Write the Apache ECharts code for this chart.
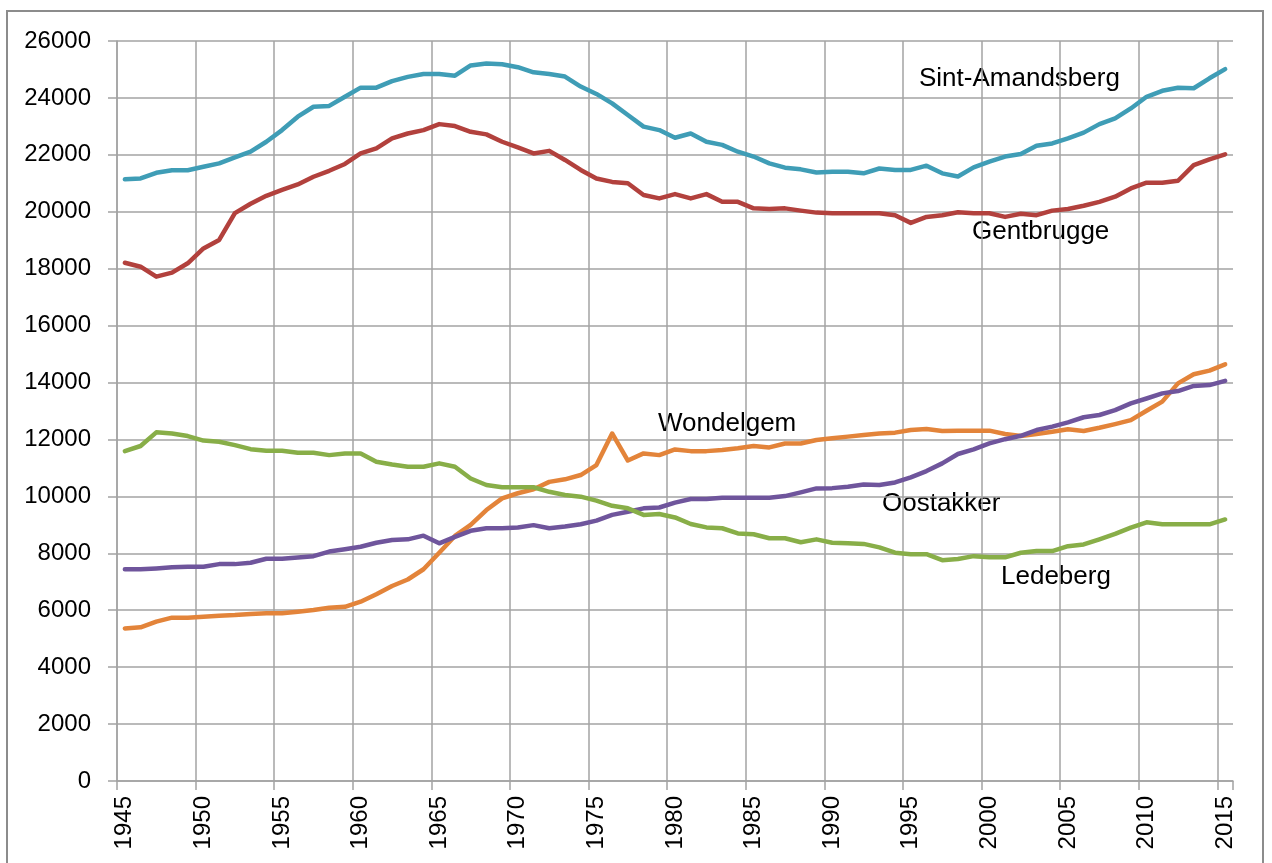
<!DOCTYPE html>
<html>
<head>
<meta charset="utf-8">
<title>Bevolking deelgemeenten</title>
<script src="https://cdn.jsdelivr.net/npm/echarts@6/dist/echarts.min.js"></script>
<style>
    html, body { margin: 0; padding: 0; background: #fff; }
    #chart { width: 1272px; height: 863px; }
</style>
</head>
<body>
<div id="chart"></div>
<script>
// jaren 1945 - 2015
var years = [];
for (var y = 1945; y <= 2015; y++) {
    years.push(String(y));
}

var sintAmandsberg = [21140, 21170, 21370, 21460, 21460, 21580, 21700, 21910, 22110, 22460,
    22870, 23340, 23690, 23720, 24040, 24360, 24360, 24590, 24740, 24840,
    24840, 24780, 25140, 25210, 25180, 25080, 24900, 24840, 24750, 24400,
    24140, 23810, 23400, 22990, 22870, 22600, 22750, 22460, 22350, 22110,
    21940, 21700, 21550, 21490, 21380, 21410, 21410, 21350, 21520, 21470,
    21470, 21620, 21350, 21240, 21560, 21760, 21940, 22030, 22320, 22400,
    22580, 22780, 23080, 23280, 23630, 24040, 24250, 24360, 24340, 24690,
    25010];

var gentbrugge = [18210, 18070, 17720, 17860, 18190, 18710, 19010, 19950, 20280, 20560,
    20770, 20960, 21230, 21440, 21680, 22050, 22230, 22580, 22750, 22870,
    23080, 23010, 22810, 22720, 22460, 22260, 22050, 22140, 21820, 21470,
    21170, 21050, 21000, 20590, 20470, 20620, 20470, 20620, 20350, 20350,
    20120, 20100, 20120, 20040, 19970, 19950, 19950, 19950, 19950, 19880,
    19610, 19820, 19880, 19980, 19950, 19950, 19820, 19930, 19880, 20040,
    20100, 20210, 20350, 20530, 20820, 21020, 21020, 21090, 21640, 21840,
    22020];

var wondelgem = [5360, 5400, 5600, 5740, 5740, 5770, 5810, 5830, 5870, 5890,
    5890, 5950, 6010, 6090, 6120, 6300, 6560, 6850, 7080, 7440,
    8020, 8610, 9000, 9520, 9930, 10110, 10250, 10510, 10600, 10750,
    11100, 12210, 11260, 11510, 11450, 11650, 11590, 11590, 11630, 11690,
    11770, 11720, 11860, 11860, 11980, 12040, 12100, 12160, 12210, 12240,
    12330, 12370, 12300, 12310, 12310, 12310, 12190, 12120, 12190, 12270,
    12360, 12300, 12410, 12540, 12680, 13010, 13330, 13970, 14290, 14420,
    14640];

var oostakker = [7440, 7440, 7470, 7510, 7530, 7530, 7620, 7620, 7670, 7810,
    7810, 7850, 7900, 8060, 8140, 8230, 8370, 8470, 8490, 8620,
    8350, 8580, 8790, 8880, 8880, 8910, 8990, 8880, 8940, 9020,
    9150, 9350, 9460, 9580, 9610, 9780, 9910, 9910, 9950, 9950,
    9950, 9950, 10010, 10140, 10280, 10290, 10340, 10420, 10400, 10490,
    10670, 10890, 11160, 11490, 11650, 11860, 12010, 12130, 12330, 12450,
    12600, 12780, 12860, 13030, 13270, 13440, 13620, 13700, 13880, 13910,
    14060];

var ledeberg = [11590, 11770, 12250, 12210, 12120, 11960, 11920, 11800, 11660, 11600,
    11600, 11530, 11530, 11450, 11510, 11510, 11220, 11120, 11040, 11040,
    11160, 11040, 10630, 10400, 10320, 10320, 10320, 10160, 10050, 9990,
    9850, 9670, 9580, 9350, 9380, 9260, 9030, 8910, 8880, 8700,
    8670, 8530, 8530, 8390, 8490, 8370, 8350, 8330, 8210, 8020,
    7970, 7970, 7760, 7800, 7900, 7860, 7860, 8020, 8080, 8080,
    8250, 8310, 8490, 8680, 8900, 9090, 9020, 9020, 9020, 9020,
    9190];

var lineW = 4.5;
var gridColor = '#a3a3a3';
var axisFont = '"Liberation Sans", Arial, sans-serif';

function lineSerie(name, data, color) {
    return {
        name: name,
        type: 'line',
        data: data,
        symbol: 'none',
        smooth: false,
        lineStyle: { width: lineW, color: color, cap: 'round', join: 'round' },
        itemStyle: { color: color }
    };
}

// tekstjes bij de lijnen
function label(txt, x, y) {
    return {
        type: 'text',
        left: x,
        top: y,
        style: {
            text: txt,
            font: '26px "Liberation Sans", Arial, sans-serif',
            fill: '#000'
        }
    };
}

var myChart = echarts.init(document.getElementById('chart'));
myChart.setOption({
    backgroundColor: '#fff',
    animation: false,
    grid: {
        left: 117,
        right: 39,
        top: 41,
        bottom: 82,
        containLabel: false
    },
    xAxis: {
        type: 'category',
        data: years,
        boundaryGap: true,
        axisLine: { show: true, lineStyle: { color: gridColor, width: 1.5 } },
        axisTick: { show: true, interval: 4, length: 9, lineStyle: { color: gridColor, width: 1.5 } },
        splitLine: { show: true, interval: 4, showMaxLine: false, lineStyle: { color: gridColor, width: 1.5 } },
        axisLabel: {
            interval: 4,
            rotate: 90,
            margin: 15,
            color: '#000',
            fontSize: 24,
            fontFamily: axisFont
        }
    },
    yAxis: {
        type: 'value',
        min: 0,
        max: 26000,
        interval: 2000,
        axisLine: { show: true, lineStyle: { color: gridColor, width: 1.5 } },
        axisTick: { show: true, length: 9, lineStyle: { color: gridColor, width: 1.5 } },
        splitLine: { show: true, lineStyle: { color: gridColor, width: 1.5 } },
        axisLabel: {
            margin: 26,
            color: '#000',
            fontSize: 24,
            fontFamily: axisFont,
            formatter: function (v) {
                return String(v);
            }
        }
    },
    graphic: [
        {
            type: 'rect',
            shape: { x: 7, y: 11, width: 1256, height: 870 },
            style: { fill: null, stroke: '#8c8c8c', lineWidth: 2 },
            silent: true,
            z: -1
        },
        label('Sint-Amandsberg', 919, 66),
        label('Gentbrugge', 972, 219),
        label('Wondelgem', 658, 411),
        label('Oostakker', 882, 491),
        label('Ledeberg', 1001, 564)
    ],
    series: [
        lineSerie('Sint-Amandsberg', sintAmandsberg, '#3f9db6'),
        lineSerie('Gentbrugge', gentbrugge, '#b2413d'),
        lineSerie('Wondelgem', wondelgem, '#e3843a'),
        lineSerie('Oostakker', oostakker, '#6f559c'),
        lineSerie('Ledeberg', ledeberg, '#88ae48')
    ]
});
</script>
</body>
</html>
